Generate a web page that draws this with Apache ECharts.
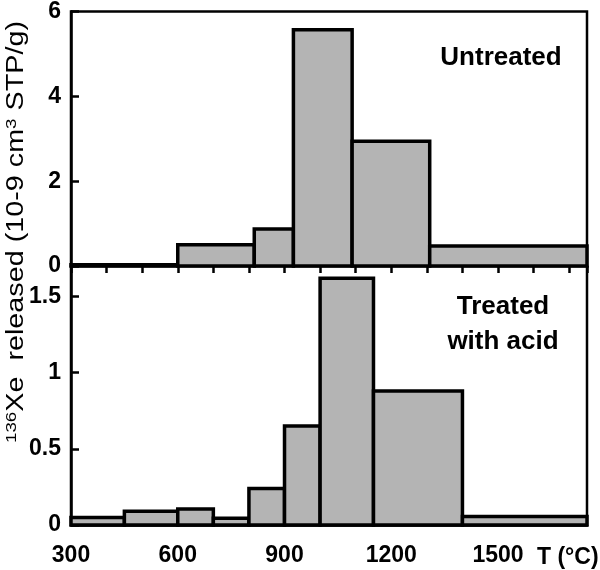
<!DOCTYPE html>
<html>
<head>
<meta charset="utf-8">
<script src="https://cdn.jsdelivr.net/npm/echarts@6/dist/echarts.min.js"></script>
<style>html,body{margin:0;padding:0;background:#fff}#c{width:600px;height:570px}</style>
</head>
<body>
<div id="c"></div>
<script>
// Untreated panel: temperature step edges (°C) and 136Xe released (10^-9 cm3 STP/g)
const topEdges = [300, 600, 815, 925, 1090, 1308, 1750];
const topValues = [0.03, 0.5, 0.87, 5.57, 2.94, 0.47];
// Acid-treated panel
const bottomEdges = [300, 450, 600, 700, 800, 900, 1000, 1150, 1400, 1750];
const bottomValues = [0.05, 0.09, 0.105, 0.045, 0.24, 0.65, 1.62, 0.88, 0.055];
// Tick labels
const xTickLabels = [300, 600, 900, 1200, 1500];
const topYTicks = [0, 2, 4, 6];
const bottomYTicks = [0, 0.5, 1, 1.5];

function steps(edges, values) {
  return values.map((v, i) => [edges[i], edges[i + 1], v]);
}

const FONT = 'Liberation Sans, Arial, sans-serif';
const chart = echarts.init(document.getElementById('c'));

function renderItem(params, api) {
  const x0 = api.value(0), x1 = api.value(1), v = api.value(2);
  const p0 = api.coord([x0, v]);
  const p1 = api.coord([x1, 0]);
  return {
    type: 'rect',
    shape: { x: p0[0], y: p0[1], width: p1[0] - p0[0], height: Math.max(p1[1] - p0[1], 0.5) },
    style: { fill: '#b4b4b4', stroke: '#000', lineWidth: 3.5 }
  };
}

const labelStyle = { color: '#000', fontFamily: FONT, fontWeight: 'bold', fontSize: 23 };
const axisLine = { show: true, lineStyle: { color: '#000', width: 2.5 } };

chart.setOption({
  animation: false,
  grid: [
    { left: 71, right: 13, top: 9, height: 257, show: true, borderColor: '#000', borderWidth: 2.5 },
    { left: 71, right: 13, top: 266, height: 259, show: true, borderColor: '#000', borderWidth: 2.5 }
  ],
  xAxis: [
    {
      type: 'value', gridIndex: 0, min: 300, max: 1750, interval: 100, position: 'top',
      axisLine: { show: false },
      axisTick: { show: true, inside: true, length: 7, lineStyle: { color: '#000', width: 2.5 } },
      axisLabel: { show: false }, splitLine: { show: false }
    },
    {
      type: 'value', gridIndex: 1, min: 300, max: 1750, interval: 100, position: 'bottom',
      axisLine,
      axisTick: { show: true, inside: true, length: 7, lineStyle: { color: '#000', width: 2.5 } },
      axisLabel: Object.assign({
        margin: 19,
        showMaxLabel: false,
        formatter: v => xTickLabels.indexOf(v) >= 0 ? String(v) : ''
      }, labelStyle),
      splitLine: { show: false }
    }
  ],
  yAxis: [
    {
      type: 'value', gridIndex: 0, min: 0, max: 6, interval: 2,
      axisLine,
      axisTick: { show: true, inside: true, length: 8, lineStyle: { color: '#000', width: 2.5 } },
      axisLabel: Object.assign({
        margin: 10,
        formatter: v => topYTicks.indexOf(v) >= 0 ? String(v) : ''
      }, labelStyle),
      splitLine: { show: false }
    },
    {
      type: 'value', gridIndex: 1, min: 0, max: 1.7, interval: 0.5,
      axisLine,
      axisTick: { show: true, inside: true, length: 8, lineStyle: { color: '#000', width: 2.5 } },
      axisLabel: Object.assign({
        margin: 10,
        showMaxLabel: false,
        formatter: v => bottomYTicks.indexOf(v) >= 0 ? String(v) : ''
      }, labelStyle),
      splitLine: { show: false }
    }
  ],
  series: [
    {
      type: 'custom', xAxisIndex: 0, yAxisIndex: 0, renderItem,
      encode: { x: [0, 1], y: 2 }, data: steps(topEdges, topValues), z: 3
    },
    {
      type: 'custom', xAxisIndex: 1, yAxisIndex: 1, renderItem,
      encode: { x: [0, 1], y: 2 }, data: steps(bottomEdges, bottomValues), z: 3
    }
  ],
  graphic: [
    {
      type: 'text', x: 501, y: 58, z: 10,
      style: { text: 'Untreated', fill: '#000', font: 'bold 26px ' + FONT, align: 'center', verticalAlign: 'middle' }
    },
    {
      type: 'text', x: 503, y: 324, z: 10,
      style: { text: 'Treated\nwith acid', fill: '#000', font: 'bold 26px ' + FONT, lineHeight: 35, align: 'center', verticalAlign: 'middle' }
    },
    {
      type: 'text', x: 537, y: 558, z: 10,
      style: { text: 'T (°C)', fill: '#000', font: 'bold 23px ' + FONT, align: 'left', verticalAlign: 'middle' }
    },
    {
      type: 'text', x: 17, y: 232, rotation: Math.PI / 2, scaleX: 1.25, z: 10,
      style: {
        text: '{sup|136}{m|Xe  released (10-9 cm}{sup|3}{m| STP/g)}',
        align: 'center', verticalAlign: 'middle',
        rich: {
          m: { fontFamily: FONT, fontSize: 23, fill: '#000', lineHeight: 26 },
          sup: { fontFamily: FONT, fontSize: 15, fill: '#000', verticalAlign: 'top', lineHeight: 26 }
        }
      }
    }
  ]
});
</script>
</body>
</html>
